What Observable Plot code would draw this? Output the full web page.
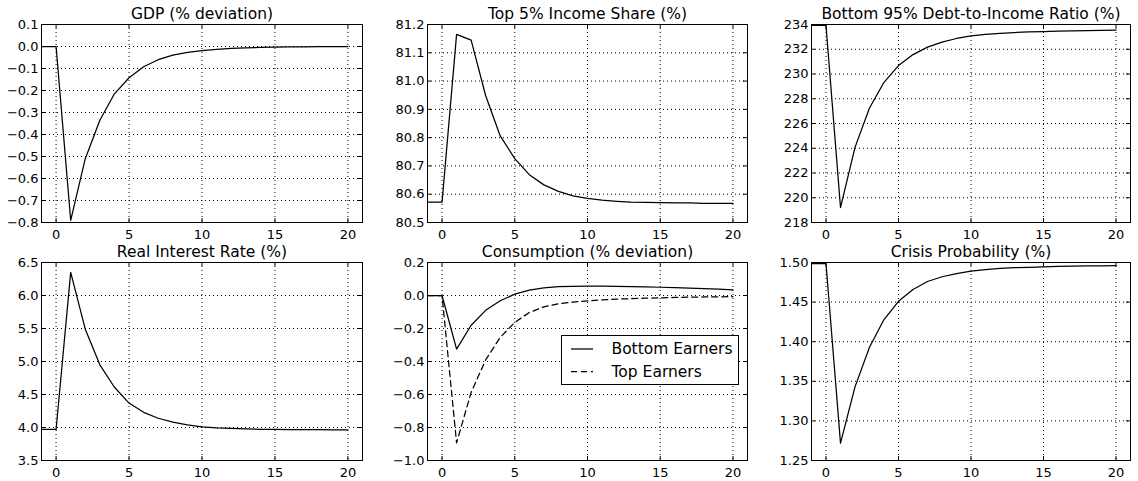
<!DOCTYPE html>
<html><head><meta charset="utf-8">
<script src="https://cdn.jsdelivr.net/npm/d3@7"></script>
<script src="https://cdn.jsdelivr.net/npm/@observablehq/plot@0.6"></script>
<style>
body{margin:0;background:#fff;}
#root{position:relative;width:1138px;height:481px;overflow:hidden;background:#fff;font-family:"DejaVu Sans",sans-serif;}
.panel{position:absolute;}
.legend{position:absolute;left:561px;top:335px;width:178px;height:50px;box-sizing:border-box;border:1px solid #000;background:#fff;}
</style></head><body><div id="root"></div>
<script>
const periods = [-1,0,1,2,3,4,5,6,7,8,9,10,11,12,13,14,15,16,17,18,19,20];
const xTicks = [0,5,10,15,20];

const gdpDeviation = [0,0,-0.79,-0.51,-0.335,-0.215,-0.142,-0.092,-0.06,-0.039,-0.027,-0.019,-0.013,-0.009,-0.006,-0.004,-0.003,-0.002,-0.0015,-0.001,-0.0007,-0.0005];
const topIncomeShare = [80.572,80.572,81.165,81.145,80.948,80.806,80.726,80.669,80.633,80.61,80.594,80.585,80.579,80.575,80.572,80.571,80.57,80.569,80.569,80.568,80.568,80.568];
const debtToIncome = [233.92,233.92,219.21,224.07,227.25,229.33,230.68,231.57,232.17,232.57,232.87,233.08,233.2,233.29,233.35,233.4,233.43,233.46,233.48,233.5,233.52,233.54];
const realRate = [3.97,3.97,6.35,5.49,4.95,4.61,4.37,4.23,4.14,4.08,4.04,4.01,3.995,3.985,3.978,3.973,3.97,3.968,3.967,3.966,3.965,3.965];
const consBottom = [0,0,-0.325,-0.18,-0.09,-0.032,0.008,0.032,0.046,0.054,0.056,0.057,0.057,0.056,0.054,0.052,0.05,0.047,0.044,0.041,0.038,0.034];
const consTop = [0,0,-0.893,-0.587,-0.39,-0.254,-0.163,-0.103,-0.069,-0.05,-0.04,-0.033,-0.027,-0.022,-0.019,-0.016,-0.014,-0.012,-0.01,-0.009,-0.008,-0.007];
const crisisProb = [1.4987,1.4987,1.272,1.343,1.393,1.428,1.451,1.466,1.476,1.482,1.486,1.489,1.491,1.4925,1.4935,1.494,1.4945,1.495,1.4953,1.4956,1.4958,1.496];

const gdpTicks = [-0.8,-0.7,-0.6,-0.5,-0.4,-0.3,-0.2,-0.1,0,0.1];
const shareTicks = [80.5,80.6,80.7,80.8,80.9,81.0,81.1,81.2];
const debtTicks = [218,220,222,224,226,228,230,232,234];
const rateTicks = [3.5,4.0,4.5,5.0,5.5,6.0,6.5];
const consTicks = [-1.0,-0.8,-0.6,-0.4,-0.2,0,0.2];
const crisisTicks = [1.25,1.30,1.35,1.40,1.45,1.50];

const titles = ["GDP (% deviation)","Top 5% Income Share (%)","Bottom 95% Debt-to-Income Ratio (%)","Real Interest Rate (%)","Consumption (% deviation)","Crisis Probability (%)"];
const legendLabels = ["Bottom Earners","Top Earners"];

const panels = [
  {title: titles[0], series:[{v:gdpDeviation}], ticks:gdpTicks, domain:[-0.8,0.1], fmt:".1f", col:0, row:0},
  {title: titles[1], series:[{v:topIncomeShare}], ticks:shareTicks, domain:[80.5,81.2], fmt:".1f", col:1, row:0},
  {title: titles[2], series:[{v:debtToIncome}], ticks:debtTicks, domain:[218,234], fmt:"d", col:2, row:0},
  {title: titles[3], series:[{v:realRate}], ticks:rateTicks, domain:[3.5,6.5], fmt:".1f", col:0, row:1},
  {title: titles[4], series:[{v:consBottom},{v:consTop, dash:"6,4"}], ticks:consTicks, domain:[-1.0,0.2], fmt:".1f", col:1, row:1},
  {title: titles[5], series:[{v:crisisProb}], ticks:crisisTicks, domain:[1.25,1.50], fmt:".2f", col:2, row:1}
];

const colLeft=[41,427,811], colW=[321,320,319], rowTop=[24,262], frameH=198;
const mL=55, mR=12, mT=32, mB=28;
const root = document.getElementById("root");

for (const p of panels) {
  const [lo,hi] = p.domain;
  const base = d3.format(p.fmt);
  const fmt = d => base(Math.abs(d) < 1e-12 ? 0 : d).replace(/^[-\u2212]/, "\u2212");
  const marks = [
    Plot.gridX(xTicks,{stroke:"#000",strokeOpacity:1,strokeWidth:1,strokeDasharray:"1,3"}),
    Plot.gridY(p.ticks,{stroke:"#000",strokeOpacity:1,strokeWidth:1,strokeDasharray:"1,3"}),
    Plot.ruleX(xTicks,{x:d=>d,y1:lo,y2:lo,insetTop:-4,stroke:"#000"}),
    Plot.ruleX(xTicks,{x:d=>d,y1:hi,y2:hi,insetBottom:-4,stroke:"#000"}),
    Plot.ruleY(p.ticks,{y:d=>d,x1:-1,x2:-1,insetRight:-4,stroke:"#000"}),
    Plot.ruleY(p.ticks,{y:d=>d,x1:21,x2:21,insetLeft:-4,stroke:"#000"}),
    ...p.series.map(s => Plot.line(periods.map((t,i)=>({t, v:s.v[i]})), {x:"t", y:"v", stroke:"#000", strokeWidth:1.25, strokeDasharray:s.dash || null})),
    Plot.frame({stroke:"#000", strokeWidth:1}),
    Plot.axisX(xTicks,{tickSize:0, tickPadding:7, fontSize:13, label:null}),
    Plot.axisY(p.ticks,{tickSize:0, tickPadding:3, fontSize:13, label:null, tickFormat: fmt}),
    Plot.text([p.title],{text:d=>d, frameAnchor:"top", dy:-6, lineAnchor:"bottom", fontSize:15.5})
  ];
  const svg = Plot.plot({
    width: colW[p.col]+mL+mR,
    height: frameH+mT+mB,
    marginLeft:mL, marginRight:mR, marginTop:mT, marginBottom:mB,
    x:{domain:[-1,21]},
    y:{domain:[lo,hi]},
    style:{fontFamily:"DejaVu Sans", fontSize:"13px", color:"#000", background:"transparent", overflow:"visible"},
    marks
  });
  svg.classList.add("panel");
  svg.style.left = (colLeft[p.col]-mL)+"px";
  svg.style.top = (rowTop[p.row]-mT)+"px";
  root.appendChild(svg);
}

// legend for the consumption panel
const ns = "http://www.w3.org/2000/svg";
const leg = document.createElement("div");
leg.className = "legend";
const ls = document.createElementNS(ns,"svg");
ls.setAttribute("width","176"); ls.setAttribute("height","48");
ls.style.display="block";
const dashes = [null,"6,4"];
legendLabels.forEach((lab,i)=>{
  const y = 13 + i*22.5;
  const ln = document.createElementNS(ns,"line");
  ln.setAttribute("x1","9"); ln.setAttribute("x2","31");
  ln.setAttribute("y1",y); ln.setAttribute("y2",y);
  ln.setAttribute("stroke","#000"); ln.setAttribute("stroke-width","1.25");
  if (dashes[i]) ln.setAttribute("stroke-dasharray", dashes[i]);
  ls.appendChild(ln);
  const tx = document.createElementNS(ns,"text");
  tx.setAttribute("x","49.5"); tx.setAttribute("y",y);
  tx.setAttribute("dy","0.35em");
  tx.setAttribute("font-family","DejaVu Sans");
  tx.setAttribute("font-size","15.5");
  tx.textContent = lab;
  ls.appendChild(tx);
});
leg.appendChild(ls);
root.appendChild(leg);
</script>
</body></html>
